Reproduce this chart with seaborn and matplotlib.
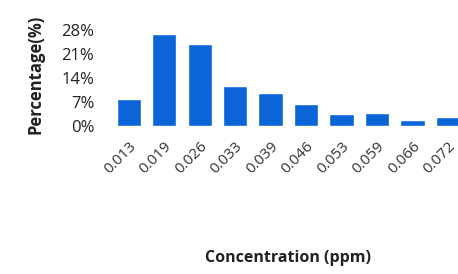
import matplotlib
matplotlib.use('Agg')
import matplotlib.pyplot as plt
import seaborn as sns
import pandas as pd

# concentration bins (ppm) and share of samples in each (%)
concentration = ['0.013', '0.019', '0.026', '0.033', '0.039',
                 '0.046', '0.053', '0.059', '0.066', '0.072']
percentage = [7.8, 26.8, 23.9, 11.7, 9.6, 6.4, 3.5, 3.8, 1.7, 2.6]
y_ticks = [0, 7, 14, 21, 28]

df = pd.DataFrame({'conc': concentration, 'pct': percentage})

sns.set_style('white')
plt.rcParams['font.family'] = ['Open Sans', 'DejaVu Sans']

fig = plt.figure(figsize=(4.58, 2.74), dpi=100)
ax = fig.add_axes([0.242, 0.540, 0.775, 0.376])

sns.barplot(data=df, x='conc', y='pct', color='#0B64D8', width=0.68,
            saturation=1, ax=ax)

ax.set_ylim(0, 30)
ax.set_xlim(-0.5, 9.5)
ax.set_yticks(y_ticks)
ax.set_yticklabels([f'{t}%' for t in y_ticks], fontsize=12, color='#222222')
ax.tick_params(axis='y', length=0, pad=12)
ax.tick_params(axis='x', length=0, pad=9)
plt.setp(ax.get_xticklabels(), rotation=45, ha='right', rotation_mode='anchor',
         fontsize=11, color='#333333')

ax.set_ylabel('Percentage(%)', fontsize=12, fontweight='bold', color='#222222', labelpad=12)
ax.set_xlabel('Concentration (ppm)', fontsize=11.5, fontweight='bold', color='#222222', labelpad=53)

sns.despine(ax=ax, left=True, bottom=True)

fig.savefig('out.png', dpi=100)
